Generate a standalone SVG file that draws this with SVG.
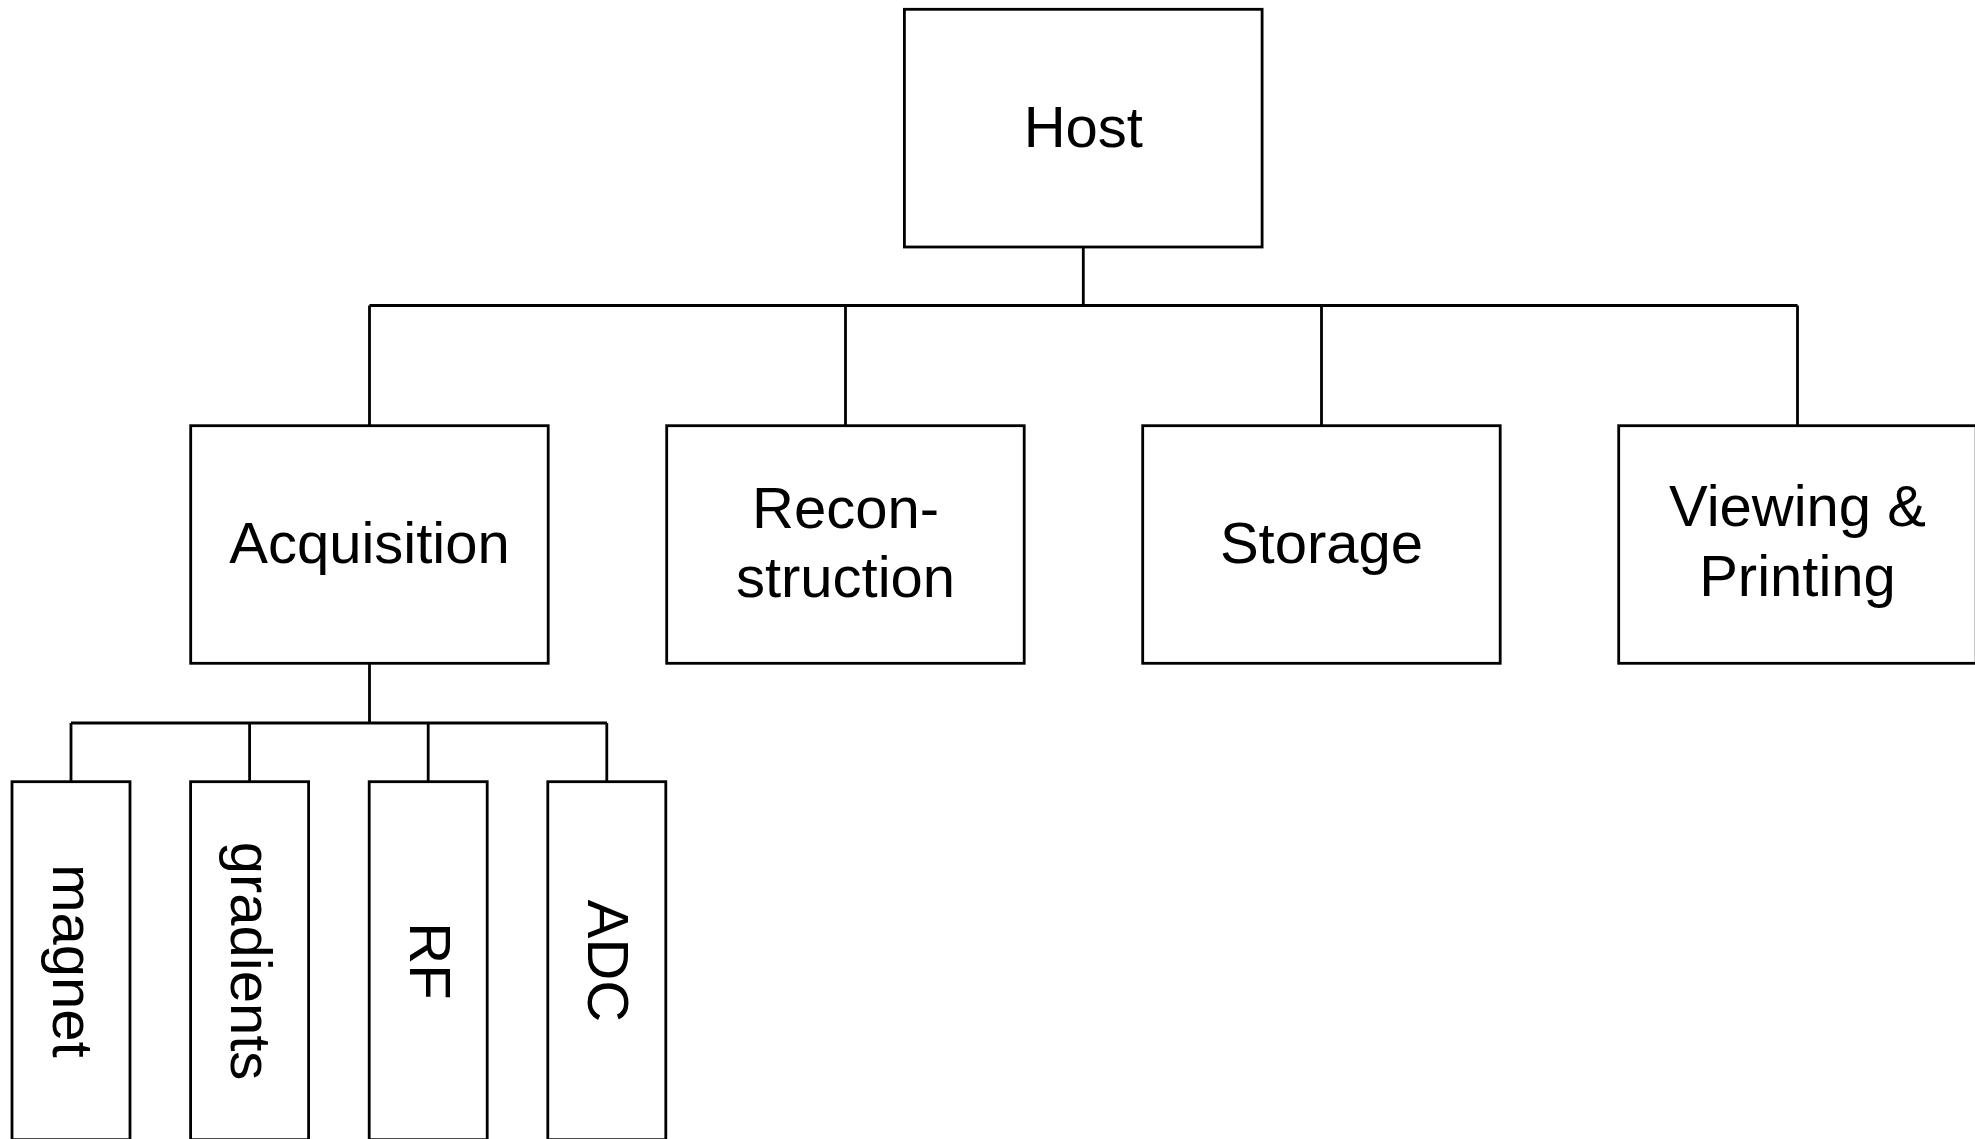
<svg xmlns="http://www.w3.org/2000/svg" width="1975" height="1139" viewBox="0 0 1975 1139">
<style>
.box{fill:#fff;stroke:#000;stroke-width:2.8}
.ln{fill:none;stroke:#000;stroke-width:2.8}
.t{font-family:"Liberation Sans",Arial,sans-serif;font-size:58px;fill:#000;text-anchor:middle}
</style>
<rect width="1975" height="1139" fill="#fff"/>
<g id="connectors">
<path class="ln" d="M1083.3 247V305.5M369.5 305.5H1797.5M369.5 305.5V425.7M845.5 305.5V425.7M1321.5 305.5V425.7M1797.5 305.5V425.7"/>
<path class="ln" d="M369.5 663.3V723M71 723H607M71 723V781.7M249.6 723V781.7M428.2 723V781.7M606.8 723V781.7"/>
</g>
<g id="host"><rect class="box" x="904.4" y="9.3" width="357.7" height="237.7"/><text class="t" x="1083.3" y="146.5">Host</text></g>
<g id="acquisition"><rect class="box" x="190.7" y="425.7" width="357.5" height="237.6"/><text class="t" x="369.5" y="563.3">Acquisition</text></g>
<g id="reconstruction"><rect class="box" x="666.7" y="425.7" width="357.5" height="237.6"/><text class="t" x="845.5" y="528.3">Recon-</text><text class="t" x="845.5" y="596.7">struction</text></g>
<g id="storage"><rect class="box" x="1142.7" y="425.7" width="357.5" height="237.6"/><text class="t" x="1321.5" y="563.3">Storage</text></g>
<g id="viewing"><rect class="box" x="1618.7" y="425.7" width="357.5" height="237.6"/><text class="t" x="1797.5" y="525.5">Viewing &amp;</text><text class="t" x="1797.5" y="595.5">Printing</text></g>
<g id="magnet"><rect class="box" x="12" y="781.7" width="118" height="358"/><text class="t" transform="translate(52.8 961) rotate(90)">magnet</text></g>
<g id="gradients"><rect class="box" x="190.6" y="781.7" width="118" height="358"/><text class="t" transform="translate(231.4 961) rotate(90)">gradients</text></g>
<g id="rf"><rect class="box" x="369.2" y="781.7" width="118" height="358"/><text class="t" transform="translate(410 961) rotate(90)">RF</text></g>
<g id="adc"><rect class="box" x="547.8" y="781.7" width="118" height="358"/><text class="t" transform="translate(588.4 961) rotate(90)">ADC</text></g>
</svg>
